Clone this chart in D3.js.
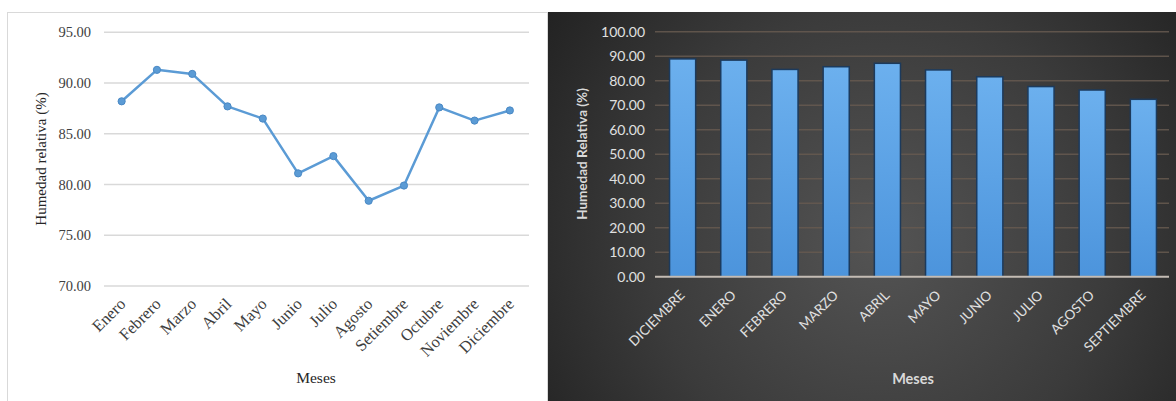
<!DOCTYPE html>
<html>
<head>
<meta charset="utf-8">
<script src="https://cdn.jsdelivr.net/npm/d3@7"></script>
<style>
  html, body { margin: 0; padding: 0; background: #ffffff; }
  svg { display: block; }
</style>
</head>
<body>
<script>
// ---------- DATA ----------
const monthsLeft = ["Enero","Febrero","Marzo","Abril","Mayo","Junio","Julio","Agosto","Setiembre","Octubre","Noviembre","Diciembre"];
const humidityLeft = [88.2, 91.3, 90.9, 87.7, 86.5, 81.1, 82.8, 78.4, 79.9, 87.6, 86.3, 87.3];
const yTicksLeft = [70, 75, 80, 85, 90, 95];

const monthsRight = ["DICIEMBRE","ENERO","FEBRERO","MARZO","ABRIL","MAYO","JUNIO","JULIO","AGOSTO","SEPTIEMBRE"];
const humidityRight = [88.9, 88.4, 84.6, 85.7, 87.1, 84.4, 81.6, 77.6, 76.2, 72.4];
const yTicksRight = [0, 10, 20, 30, 40, 50, 60, 70, 80, 90, 100];

const W = 1176, H = 401;
const svg = d3.select("body").append("svg").attr("width", W).attr("height", H);
const defs = svg.append("defs");

// ---------- LEFT PANEL ----------
svg.append("rect").attr("x", 7.5).attr("y", 12.5).attr("width", 540).attr("height", 400)
  .attr("fill", "#ffffff").attr("stroke", "#d9d9d9").attr("stroke-width", 1);

const xL = d3.scaleBand().domain(monthsLeft).range([104, 527.5]);
const yL = d3.scaleLinear().domain([70, 95]).range([286, 32.3]);
const cxL = d => xL(d) + xL.bandwidth() / 2;

const gL = svg.append("g");
gL.selectAll("line.grid").data(yTicksLeft).join("line")
  .attr("x1", 104).attr("x2", 529).attr("y1", d => yL(d)).attr("y2", d => yL(d))
  .attr("stroke", "#d9d9d9").attr("stroke-width", 1.5);

const axLY = d3.axisLeft(yL).tickValues(yTicksLeft).tickFormat(d3.format(".2f")).tickSize(0).tickPadding(13);
gL.append("g").attr("transform", "translate(104,0)").call(axLY)
  .call(g => g.select(".domain").remove())
  .selectAll("text").attr("font-family", "Liberation Serif").attr("font-size", 14.5).attr("fill", "#404040");

const axLX = d3.axisBottom(xL).tickSize(0).tickPadding(0);
gL.append("g").attr("transform", "translate(0,292)").call(axLX)
  .call(g => g.select(".domain").remove())
  .selectAll("text")
  .attr("font-family", "Liberation Serif").attr("font-size", 16.5).attr("fill", "#404040")
  .attr("text-anchor", "end").attr("dy", 0)
  .attr("transform", "translate(5,13) rotate(-45)");

const line = d3.line().x((d, i) => cxL(monthsLeft[i])).y(d => yL(d));
gL.append("path").datum(humidityLeft).attr("d", line)
  .attr("fill", "none").attr("stroke", "#5b9bd5").attr("stroke-width", 2.5).attr("stroke-linejoin", "round");
gL.selectAll("circle").data(humidityLeft).join("circle")
  .attr("cx", (d, i) => cxL(monthsLeft[i])).attr("cy", d => yL(d)).attr("r", 3.6)
  .attr("fill", "#5b9bd5").attr("stroke", "#4a89c5").attr("stroke-width", 1);

gL.append("text").attr("transform", "translate(46,159) rotate(-90)")
  .attr("text-anchor", "middle").attr("font-family", "Liberation Serif").attr("font-size", 15)
  .attr("fill", "#262626").text("Humedad relativa (%)");
gL.append("text").attr("x", 316).attr("y", 383)
  .attr("text-anchor", "middle").attr("font-family", "Liberation Serif").attr("font-size", 15.5)
  .attr("fill", "#262626").text("Meses");

// ---------- RIGHT PANEL ----------
const rg = defs.append("radialGradient").attr("id", "bgGrad")
  .attr("gradientUnits", "userSpaceOnUse").attr("cx", 880).attr("cy", 240).attr("r", 420);
rg.append("stop").attr("offset", "0%").attr("stop-color", "#545454");
rg.append("stop").attr("offset", "55%").attr("stop-color", "#3b3b3b");
rg.append("stop").attr("offset", "100%").attr("stop-color", "#202020");
svg.append("rect").attr("x", 548).attr("y", 12).attr("width", W - 548).attr("height", H - 12)
  .attr("fill", "url(#bgGrad)");

const bg = defs.append("linearGradient").attr("id", "barGrad").attr("x1", 0).attr("y1", 0).attr("x2", 0).attr("y2", 1);
bg.append("stop").attr("offset", "0%").attr("stop-color", "#6cb0ee");
bg.append("stop").attr("offset", "100%").attr("stop-color", "#4c94dc");

const xR = d3.scaleBand().domain(monthsRight).range([657, 1169]).paddingInner(0.49).paddingOuter(0.245);
const yR = d3.scaleLinear().domain([0, 100]).range([276.7, 31.7]);

const gR = svg.append("g");
gR.selectAll("line.grid").data(yTicksRight.filter(d => d > 0)).join("line")
  .attr("x1", 655).attr("x2", 1169).attr("y1", d => yR(d)).attr("y2", d => yR(d))
  .attr("stroke", "#675a50").attr("stroke-width", 1.5).attr("opacity", 0.85);

gR.selectAll("rect.bar").data(humidityRight).join("rect").attr("class", "bar")
  .attr("x", (d, i) => xR(monthsRight[i])).attr("width", xR.bandwidth())
  .attr("y", d => yR(d)).attr("height", d => yR(0) - yR(d))
  .attr("fill", "url(#barGrad)").attr("stroke", "#1c3a5c").attr("stroke-width", 1.5);

gR.append("line").attr("x1", 655).attr("x2", 1169).attr("y1", yR(0)).attr("y2", yR(0))
  .attr("stroke", "#c4bcb4").attr("stroke-width", 2);

const axRY = d3.axisLeft(yR).tickValues(yTicksRight).tickFormat(d3.format(".2f")).tickSize(0).tickPadding(10);
gR.append("g").attr("transform", "translate(655,0)").call(axRY)
  .call(g => g.select(".domain").remove())
  .selectAll("text").attr("font-family", "Lato").attr("font-size", 14).attr("fill", "#e0e0e0");

const axRX = d3.axisBottom(xR).tickSize(0).tickPadding(0);
gR.append("g").attr("transform", "translate(0,283)").call(axRX)
  .call(g => g.select(".domain").remove())
  .selectAll("text")
  .attr("font-family", "Lato").attr("font-size", 13.5).attr("fill", "#e0e0e0")
  .attr("text-anchor", "end").attr("dy", 0)
  .attr("transform", "translate(3,13) rotate(-45)");

gR.append("text").attr("transform", "translate(587,154) rotate(-90)")
  .attr("text-anchor", "middle").attr("font-family", "Lato").attr("font-weight", "bold").attr("font-size", 13.5)
  .attr("fill", "#d9d9d9").text("Humedad Relativa (%)");
gR.append("text").attr("x", 913).attr("y", 384)
  .attr("text-anchor", "middle").attr("font-family", "Lato").attr("font-weight", "bold").attr("font-size", 14.5)
  .attr("fill", "#d9d9d9").text("Meses");
</script>
</body>
</html>
